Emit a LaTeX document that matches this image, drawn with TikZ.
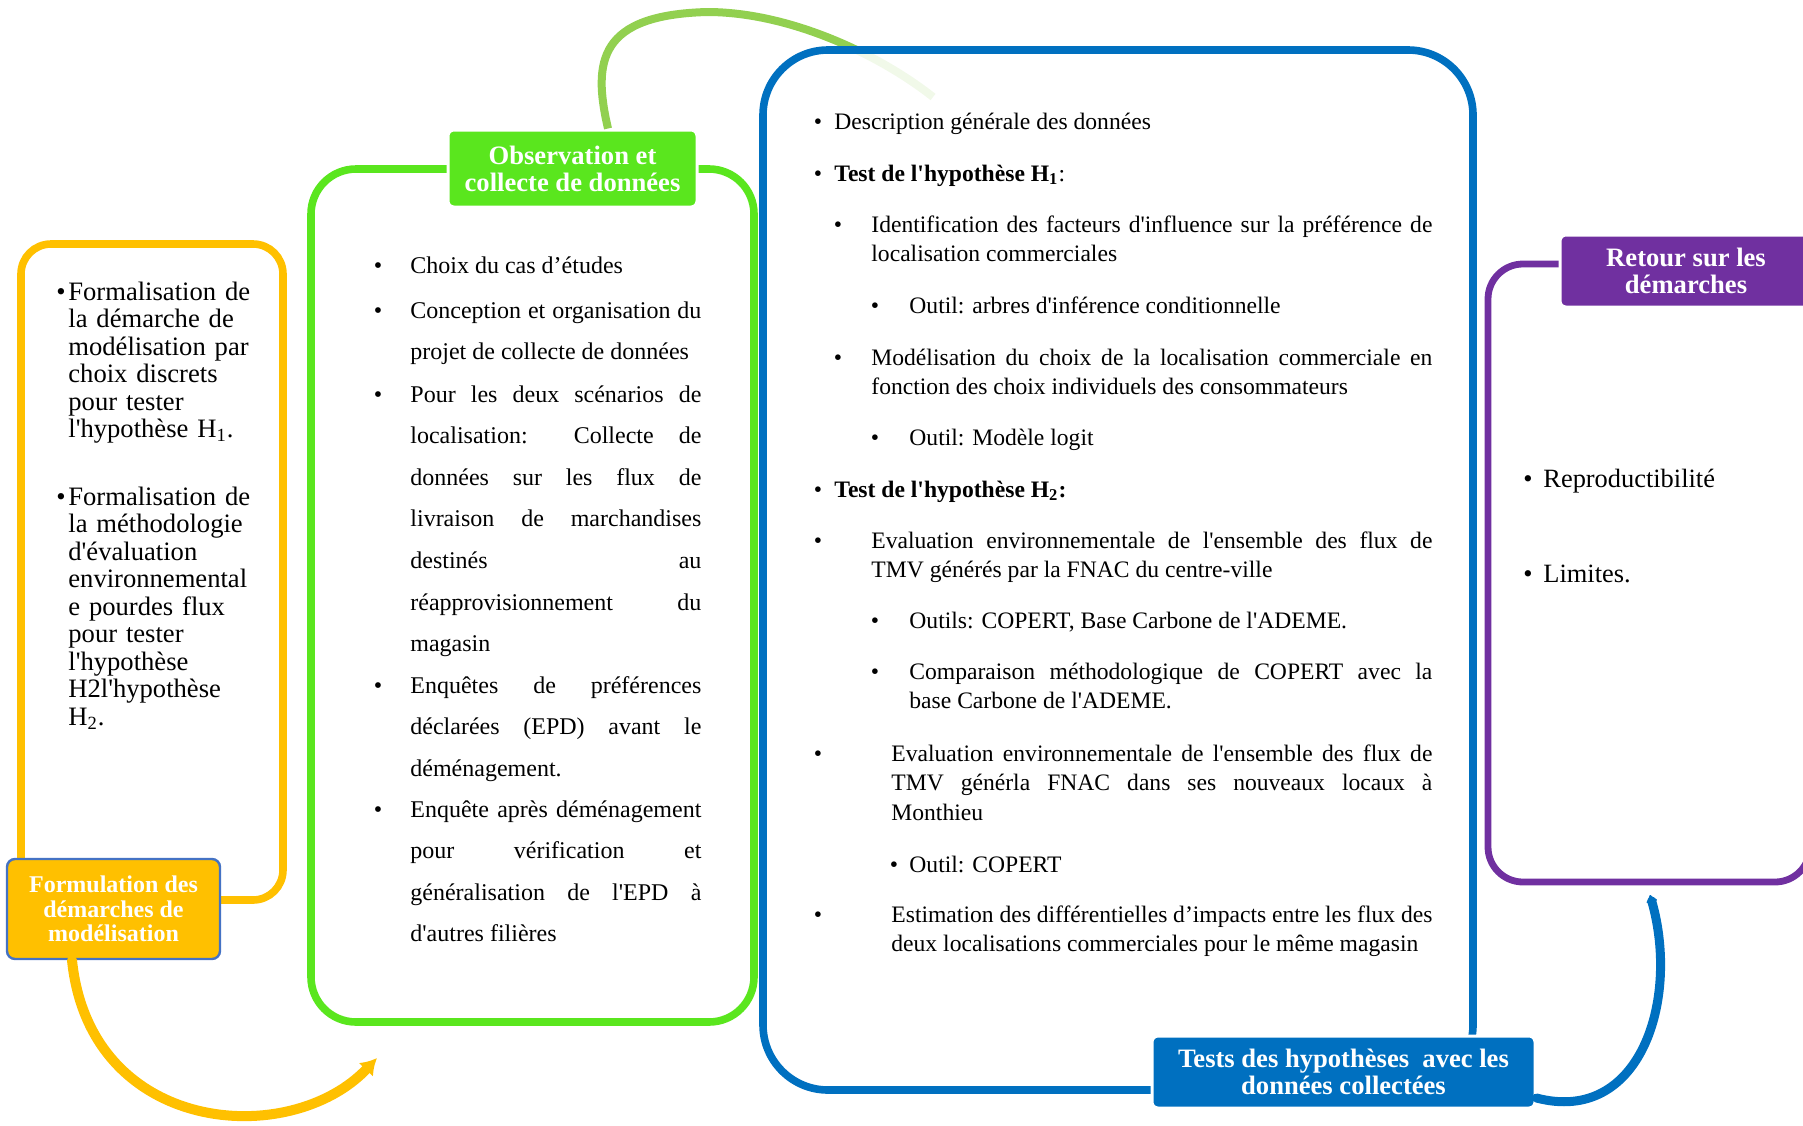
\documentclass[tikz,border=0pt]{standalone}
\usepackage{fontspec}
\setmainfont{Liberation Serif}
\usepackage{tikz}
\usetikzlibrary{arrows.meta}
\definecolor{gold}{HTML}{FFC000}
\definecolor{lime}{HTML}{5AE61E}
\definecolor{leaf}{HTML}{92D050}
\definecolor{ocean}{HTML}{0070C0}
\definecolor{grape}{HTML}{7030A0}
\definecolor{edge}{HTML}{4472C4}
\newcommand{\apo}{\textquotesingle}
\hyphenpenalty=10000
\tolerance=10000
\hbadness=10000
\lineskiplimit=-5pt
\tikzstyle{boxframe} = [rectangle, draw, fill=white, line width=3.8pt]
\tikzstyle{tag} = [rectangle, rounded corners=3pt, draw=white, line width=1.5pt, text=white, align=center, inner sep=0pt, font=\bfseries\fontsize{13.3}{13.5}\selectfont]
\tikzstyle{bul} = [anchor=base, inner sep=0pt]
\tikzstyle{yitem} = [anchor=base west, inner sep=0pt, align=left, text width=110pt, font=\fontsize{13.3}{13.75}\selectfont]
\tikzstyle{gitem} = [anchor=base west, inner sep=0pt, align=justify, text width=145.5pt, font=\fontsize{12}{20.8}\selectfont]
\tikzstyle{bitem} = [anchor=base west, inner sep=0pt, align=justify, font=\fontsize{11.8}{14.75}\selectfont]
\tikzstyle{pitem} = [anchor=base west, inner sep=0pt, font=\fontsize{13.2}{15}\selectfont]
\tikzstyle{link} = [line width=5pt, line cap=round]

\begin{document}
\begin{tikzpicture}[x=0.5pt, y=-0.5pt]
    \useasboundingbox (0,0) rectangle (1803,1125);

    % frames and their tags
    \node (formbox) [boxframe, draw=gold, rounded corners=15pt, minimum width=131pt, minimum height=328pt] at (152,572) {};
    \node (obsbox) [boxframe, draw=lime, rounded corners=22.5pt, minimum width=221.5pt, minimum height=426.5pt] at (532.5,595.5) {};
    \node (observ) [tag, fill=lime, minimum width=124.5pt, minimum height=38.5pt] at (572.5,168.5) {Observation et\\collecte de données};

    \coordinate (arcend) at (933,97);
    \draw [leaf, line width=4pt] ([xshift=17.75pt]observ.north) .. controls (592,60) and (600,15) .. (707,12) .. controls (790,12) and (880,55) .. (arcend);

    \node (testbox) [boxframe, draw=ocean, fill opacity=0.88, rounded corners=32.5pt, minimum width=355pt, minimum height=520pt] at (1118,570) {};
    \node (retbox) [boxframe, draw=grape, line width=3.4pt, rounded corners=17.5pt, minimum width=161pt, minimum height=309pt] at (1649,573) {};

    \node (formul) [tag, fill=gold, draw=edge, line width=1.2pt, rounded corners=4pt, minimum width=106.5pt, minimum height=50pt, font=\bfseries\fontsize{12}{12.2}\selectfont] at (113.5,909) {Formulation des\\démarches de\\modélisation};
    \node (tests) [tag, fill=ocean, minimum width=191.5pt, minimum height=36pt] at (1343.5,1072) {Tests des hypothèses\ \ avec les\\données collectées};
    \node (retour) [tag, fill=grape, minimum width=126pt, minimum height=36pt] at (1686,271) {Retour sur les\\démarches};

    % loop arrows
    \coordinate (obsin) at (377,1058);
    \coordinate (retin) at (1650,895);
    \draw [link, gold, -{Latex[length=8pt,width=10pt]}] ([xshift=-20.75pt]formul.south) .. controls (90,1135) and (290,1150) .. (obsin);
    \draw [link, ocean, line width=4.5pt, -{Latex[length=4pt,width=7pt,round]}] ([yshift=-13pt]tests.east) .. controls (1640,1125) and (1680,1000) .. (retin);

    % formulation
    \node (forma) [yitem] at (68,300) {Formalisation de\\la démarche de\\modélisation par\\choix discrets\\pour tester\\l\apo hypothèse H\textsubscript{1}.};
    \node (formb) [yitem] at (68,505) {Formalisation de\\la méthodologie\\d\apo évaluation\\environnemental\\e pourdes flux\\pour tester\\l\apo hypothèse\\H2l\apo hypothèse\\H\textsubscript{2}.};
    \foreach \bx/\by [count=\i] in {61/300, 61/505}
        \node (ybul\i) [bul, font=\fontsize{13.3}{14}\selectfont] at (\bx,\by) {\textbullet};

    % observation
    \node (obsa) [gitem] at (410,273) {Choix du cas d’études};
    \node (obsb) [gitem] at (410,318) {Conception et organisation du\linebreak projet de collecte de données};
    \node (obsc) [gitem] at (410,402) {Pour les deux scénarios de\linebreak localisation: Collecte de\linebreak données sur les flux de\linebreak livraison de marchandises\linebreak destinés au\linebreak réapprovisionnement du\linebreak magasin};
    \node (obsd) [gitem] at (410,693) {Enquêtes de préférences\linebreak déclarées (EPD) avant le\linebreak déménagement.};
    \node (obse) [gitem] at (410,817) {Enquête après déménagement\linebreak pour vérification et\linebreak généralisation de l\apo EPD à\linebreak d\apo autres filières};
    \foreach \by [count=\i] in {273, 318, 402, 693, 817}
        \node (gbul\i) [bul, font=\fontsize{12}{14}\selectfont] at (378,\by) {\textbullet};

    % tests
    \node (tsta) [bitem, text width=300pt] at (834,129) {Description générale des données};
    \node (tstb) [bitem, text width=300pt] at (834,181) {\textbf{Test de l\apo hypothèse H\textsubscript{1}}:};
    \node (tstc) [bitem, text width=280.5pt] at (871,232) {Identification des facteurs d\apo influence sur la préférence de\linebreak localisation commerciales};
    \node (tstd) [bitem, text width=261.5pt] at (909,313) {Outil: arbres d\apo inférence conditionnelle};
    \node (tste) [bitem, text width=280.5pt] at (871,365) {Modélisation du choix de la localisation commerciale en\linebreak fonction des choix individuels des consommateurs};
    \node (tstf) [bitem, text width=261.5pt] at (909,445) {Outil: Modèle logit};
    \node (tstg) [bitem, text width=300pt] at (834,497) {\textbf{Test de l\apo hypothèse H\textsubscript{2}:}};
    \node (tsth) [bitem, text width=280.5pt] at (871,548) {Evaluation environnementale de l\apo ensemble des flux de\linebreak TMV générés par la FNAC du centre-ville};
    \node (tsti) [bitem, text width=261.5pt] at (909,628) {Outils: COPERT, Base Carbone de l\apo ADEME.};
    \node (tstj) [bitem, text width=261.5pt] at (909,679) {Comparaison méthodologique de COPERT avec la\linebreak base Carbone de l\apo ADEME.};
    \node (tstk) [bitem, text width=270.5pt] at (891,761) {Evaluation environnementale de l\apo ensemble des flux de\linebreak TMV générla FNAC dans ses nouveaux locaux à\linebreak Monthieu};
    \node (tstl) [bitem, text width=261.5pt] at (909,872) {Outil: COPERT};
    \node (tstm) [bitem, text width=270.5pt] at (891,922) {Estimation des différentielles d’impacts entre les flux des\linebreak deux localisations commerciales pour le même magasin};
    \foreach \bx/\by [count=\i] in {818/129, 818/181, 838/232, 875/313, 838/365, 875/445, 818/497, 818/548, 875/628, 875/679, 818/761, 894/872, 818/922}
        \node (bbul\i) [bul, font=\fontsize{11.8}{14}\selectfont] at (\bx,\by) {\textbullet};

    % retour
    \node (reta) [pitem] at (1543,487) {Reproductibilité};
    \node (retb) [pitem] at (1543,582) {Limites.};
    \foreach \by [count=\i] in {487, 582}
        \node (pbul\i) [bul, font=\fontsize{13.2}{14}\selectfont] at (1528,\by) {\textbullet};
\end{tikzpicture}
\end{document}
